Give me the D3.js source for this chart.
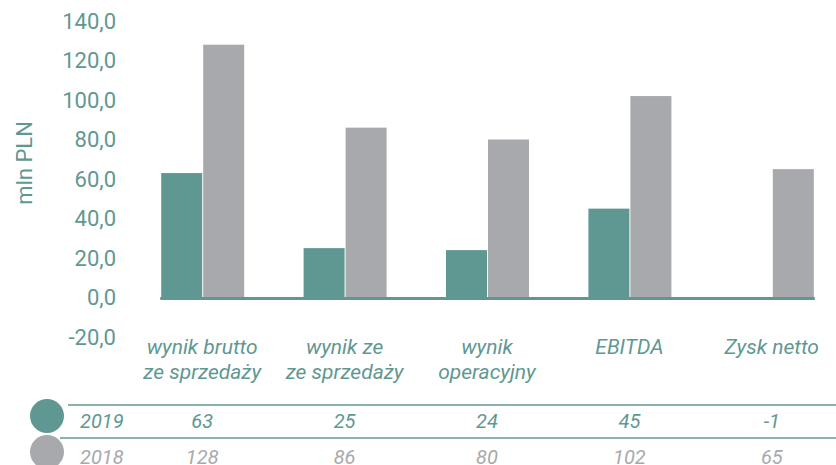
<!DOCTYPE html>
<html>
<head>
<meta charset="utf-8">
<script src="https://cdn.jsdelivr.net/npm/d3@7"></script>
<style>
  body { margin: 0; background: #fff; }
  text { font-family: Roboto, "Open Sans", sans-serif; }
</style>
</head>
<body>
<svg id="chart" width="836" height="465"></svg>
<script>
// chart data
var categories = [["wynik brutto", "ze sprzedaży"], ["wynik ze", "ze sprzedaży"], ["wynik", "operacyjny"], ["EBITDA"], ["Zysk netto"]];
var years = ["2019", "2018"];
var values2019 = [63, 25, 24, 45, -1];
var values2018 = [128, 86, 80, 102, 65];
var yTicks = [-20, 0, 20, 40, 60, 80, 100, 120, 140];

var teal = "#5f9892", grey = "#a8a9ad";
var svg = d3.select("#chart");

var x = d3.scaleBand().domain(d3.range(categories.length)).range([131, 843]);
var y = d3.scaleLinear().domain([-20, 140]).range([337, 21]);
var bw = 41;

// y axis labels
svg.append("g").selectAll("text").data(yTicks).enter().append("text")
  .attr("x", 116).attr("y", function(d) { return y(d); }).attr("dy", "0.36em")
  .attr("text-anchor", "end").attr("fill", teal).style("font-size", "22px")
  .text(function(d) { return d3.format(".1f")(d).replace(".", ",").replace("\u2212", "-"); });

svg.append("text").attr("transform", "translate(32,163) rotate(-90)")
  .attr("text-anchor", "middle").attr("fill", teal).style("font-size", "22px")
  .text("mln PLN");

// bars
var series = [values2019, values2018];
var colors = [teal, grey];
series.forEach(function(vals, s) {
  svg.append("g").selectAll("rect").data(vals).enter().append("rect")
    .attr("x", function(d, i) { return x(i) + x.bandwidth() / 2 - bw + s * (bw + 1); })
    .attr("width", bw)
    .attr("y", function(d) { return y(Math.max(0, d)); })
    .attr("height", function(d) { return Math.abs(y(d) - y(0)); })
    .attr("fill", colors[s]);
});

// zero line
svg.append("line")
  .attr("x1", x(0) + x.bandwidth() / 2 - bw - 1)
  .attr("x2", x(categories.length - 1) + x.bandwidth() / 2 + bw + 2)
  .attr("y1", y(0) + 1).attr("y2", y(0) + 1)
  .attr("stroke", teal).attr("stroke-width", 3);

// category labels
var cat = svg.append("g").selectAll("text").data(categories).enter().append("text")
  .attr("x", function(d, i) { return x(i) + x.bandwidth() / 2; })
  .attr("y", 354).attr("text-anchor", "middle").attr("fill", teal)
  .style("font-size", "21px").style("font-style", "italic");
cat.selectAll("tspan").data(function(d) { return d; }).enter().append("tspan")
  .attr("x", function() { return d3.select(this.parentNode).attr("x"); })
  .attr("dy", function(d, i) { return i === 0 ? 0 : 25; })
  .text(function(d) { return d; });

// data table
svg.append("line").attr("x1", 68).attr("x2", 836).attr("y1", 405).attr("y2", 405)
  .attr("stroke", teal).attr("stroke-width", 1.5);
svg.append("line").attr("x1", 60).attr("x2", 836).attr("y1", 438).attr("y2", 438)
  .attr("stroke", teal).attr("stroke-width", 1.5);

var rowY = [428, 464];
series.forEach(function(vals, s) {
  svg.append("circle").attr("cx", 47).attr("cy", rowY[s] - 12).attr("r", 17).attr("fill", colors[s]);
  svg.append("text").attr("x", 80).attr("y", rowY[s]).attr("fill", colors[s])
    .style("font-size", "20px").style("font-style", "italic").text(years[s]);
  svg.append("g").selectAll("text").data(vals).enter().append("text")
    .attr("x", function(d, i) { return x(i) + x.bandwidth() / 2; })
    .attr("y", rowY[s]).attr("text-anchor", "middle").attr("fill", colors[s])
    .style("font-size", "20px").style("font-style", "italic")
    .text(function(d) { return d; });
});
</script>
</body>
</html>
